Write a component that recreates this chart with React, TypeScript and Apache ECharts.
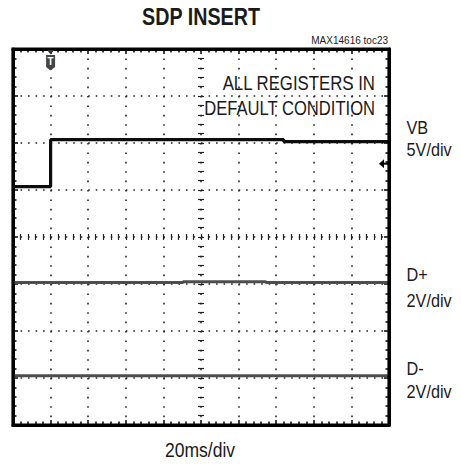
import React, { useEffect, useRef } from 'react';
import * as echarts from 'echarts';

// ---- data (time in ms, level in screen divisions from bottom) ----
const TIME_MIN_MS = -20;
const TIME_MAX_MS = 180;
const TIME_DIV_MS = 20;
const DIVS_Y = 8;

const VB_TIME_MS = [-20, 0, 0, 124, 124, 180];
const VB_DIV = [5.07, 5.07, 6.07, 6.07, 6.03, 6.03];
const DP_TIME_MS = [-20, 70, 71, 114, 115, 180];
const DP_DIV = [3.03, 3.03, 3.05, 3.05, 3.03, 3.03];
const DM_TIME_MS = [-20, 180];
const DM_DIV = [1.05, 1.05];

const TRIGGER_MS = 0;
const VB_MARKER_DIV = 5.56;

const CHANNEL_NAMES = ['VB', 'D+', 'D-'];
const CHANNEL_SCALES = ['5V/div', '2V/div', '2V/div'];
const TITLE = 'SDP INSERT';
const PART_ID = 'MAX14616 toc23';
const NOTE_LINES = ['ALL REGISTERS IN', 'DEFAULT CONDITION'];
const TIMEBASE = '20ms/div';

const FONT = '"Liberation Sans", Arial, Helvetica, sans-serif';
const INK = '#1a1a1a';
const GRID = { left: 13, top: 49, width: 376, height: 376 };

const pairs = (xs: number[], ys: number[]) => xs.map((x, i) => [x, ys[i]]);

function txt(text: string, x: number, y: number, size: number, align: string, scaleX: number, bold = false) {
  return {
    type: 'text',
    x,
    y,
    scaleX,
    z: 20,
    style: {
      text,
      fontSize: size,
      fontWeight: bold ? 'bold' : 'normal',
      fontFamily: FONT,
      fill: INK,
      textAlign: align,
      align,
      textVerticalAlign: 'middle',
      verticalAlign: 'middle',
    },
  };
}

export default function App() {
  const ref = useRef<HTMLDivElement>(null);
  useEffect(() => {
    if (!ref.current) return;
    const chart = echarts.init(ref.current, undefined, { renderer: 'svg' });

    const border = () => ({
      axisLine: { show: true, onZero: false, lineStyle: { color: '#000', width: 3 } },
      axisTick: { show: true, inside: true, length: 5, lineStyle: { color: '#000', width: 1.5 } },
      minorTick: { show: true, splitNumber: 5, length: 3.5, lineStyle: { color: '#000', width: 1.5 } },
      axisLabel: { show: false },
      minorSplitLine: { show: false },
    });
    const center = (gridIndex: number, inside: boolean, min: number, max: number) => ({
      type: 'value',
      gridIndex,
      min,
      max,
      interval: 1,
      axisLine: { show: true, onZero: true, lineStyle: { color: '#333', opacity: 0 } },
      axisTick: { show: true, inside, length: 3, lineStyle: { color: '#222', width: 1.2, opacity: 1 } },
      minorTick: { show: true, splitNumber: 5, length: 3, lineStyle: { color: '#222', width: 1.2, opacity: 1 } },
      splitLine: { show: false },
      axisLabel: { show: false },
    });

    chart.setOption({
      animation: false,
      backgroundColor: '#fff',
      grid: [
        { ...GRID, containLabel: false },
        { ...GRID, containLabel: false },
        { ...GRID, containLabel: false },
      ],
      xAxis: [
        {
          type: 'value', gridIndex: 0, position: 'bottom',
          min: TIME_MIN_MS, max: TIME_MAX_MS, interval: TIME_DIV_MS, ...border(),
          splitLine: { show: true, lineStyle: { color: '#222', width: 1.6, type: [1.6, 7.8] } },
        },
        {
          type: 'value', gridIndex: 0, position: 'top',
          min: TIME_MIN_MS, max: TIME_MAX_MS, interval: TIME_DIV_MS, ...border(),
          splitLine: { show: false },
        },
        center(1, false, -5, 5),
        center(2, true, -5, 5),
      ],
      yAxis: [
        {
          type: 'value', gridIndex: 0, position: 'left',
          min: 0, max: DIVS_Y, interval: 1, ...border(),
          splitLine: { show: true, lineStyle: { color: '#222', width: 1.6, type: [1.6, 5.92] } },
        },
        {
          type: 'value', gridIndex: 0, position: 'right',
          min: 0, max: DIVS_Y, interval: 1, ...border(),
          splitLine: { show: false },
        },
        center(1, false, -4, 4),
        center(2, true, -4, 4),
      ],
      series: [
        {
          name: 'VB', type: 'line', xAxisIndex: 0, yAxisIndex: 0,
          data: pairs(VB_TIME_MS, VB_DIV), showSymbol: false, symbol: 'none',
          lineStyle: { color: '#0d0d0d', width: 3.2 }, z: 5,
        },
        {
          name: 'D+', type: 'line', xAxisIndex: 0, yAxisIndex: 0,
          data: pairs(DP_TIME_MS, DP_DIV), showSymbol: false, symbol: 'none',
          lineStyle: { color: '#4d4d4d', width: 3 }, z: 5,
        },
        {
          name: 'D-', type: 'line', xAxisIndex: 0, yAxisIndex: 0,
          data: pairs(DM_TIME_MS, DM_DIV), showSymbol: false, symbol: 'none',
          lineStyle: { color: '#4d4d4d', width: 3 }, z: 5,
        },
      ],
    });

    const x0 = chart.convertToPixel({ xAxisIndex: 0 }, TIME_MIN_MS) as number;
    const x1 = chart.convertToPixel({ xAxisIndex: 0 }, TIME_MAX_MS) as number;
    const y0 = chart.convertToPixel({ yAxisIndex: 0 }, DIVS_Y) as number;
    const y1 = chart.convertToPixel({ yAxisIndex: 0 }, 0) as number;
    const tx = chart.convertToPixel({ xAxisIndex: 0 }, TRIGGER_MS) as number;
    const my = chart.convertToPixel({ yAxisIndex: 0 }, VB_MARKER_DIV) as number;

    const graphic: any[] = [
      // screen frame
      {
        type: 'rect', z: 15,
        shape: { x: x0, y: y0, width: x1 - x0, height: y1 - y0 },
        style: { fill: 'none', stroke: '#000', lineWidth: 3.2 },
      },
      txt(TITLE, 201, 17.5, 23, 'center', 0.857, true),
      txt(PART_ID, 388, 40, 10, 'right', 1),
      txt(NOTE_LINES[0], 375, 82.5, 21, 'right', 0.8),
      txt(NOTE_LINES[1], 375, 107.5, 21, 'right', 0.79),
      txt(CHANNEL_NAMES[0], 406.5, 128, 17.5, 'left', 0.93),
      txt(CHANNEL_SCALES[0], 406.5, 150.5, 17.5, 'left', 0.93),
      txt(CHANNEL_NAMES[1], 406.5, 275.8, 17.5, 'left', 0.93),
      txt(CHANNEL_SCALES[1], 406.5, 301.5, 17.5, 'left', 0.93),
      txt(CHANNEL_NAMES[2], 406.5, 369.2, 17.5, 'left', 0.93),
      txt(CHANNEL_SCALES[2], 406.5, 392.5, 17.5, 'left', 0.93),
      txt(TIMEBASE, 200, 450, 19.5, 'center', 0.9),
      // trigger marker
      {
        type: 'polygon', z: 20,
        shape: { points: [[tx - 3.5, y0 + 1], [tx + 3.5, y0 + 1], [tx, y0 + 5.5]] },
        style: { fill: '#333' },
      },
      {
        type: 'polygon', z: 20,
        shape: { points: [[tx - 4.5, y0 + 6], [tx + 4.5, y0 + 6], [tx + 4.5, y0 + 18], [tx, y0 + 21.5], [tx - 4.5, y0 + 18]] },
        style: { fill: '#454545' },
      },
      {
        type: 'text', x: tx, y: y0 + 12.5, z: 21,
        style: {
          text: 'T', fontSize: 10, fontWeight: 'bold', fontFamily: FONT, fill: '#fff',
          textAlign: 'center', align: 'center', textVerticalAlign: 'middle', verticalAlign: 'middle',
        },
      },
      // VB ground-level arrow
      {
        type: 'polygon', z: 20,
        shape: { points: [[x1 - 10, my], [x1 - 5, my - 4.5], [x1 - 5, my + 4.5]] },
        style: { fill: '#000' },
      },
      {
        type: 'line', z: 20,
        shape: { x1: x1 - 6, y1: my, x2: x1, y2: my },
        style: { stroke: '#000', lineWidth: 2 },
      },
    ];
    chart.setOption({ graphic });

    return () => chart.dispose();
  }, []);

  return (
    <div
      ref={ref}
      style={{ position: 'absolute', left: 0, top: 0, width: 461, height: 464, background: '#fff' }}
    />
  );
}
